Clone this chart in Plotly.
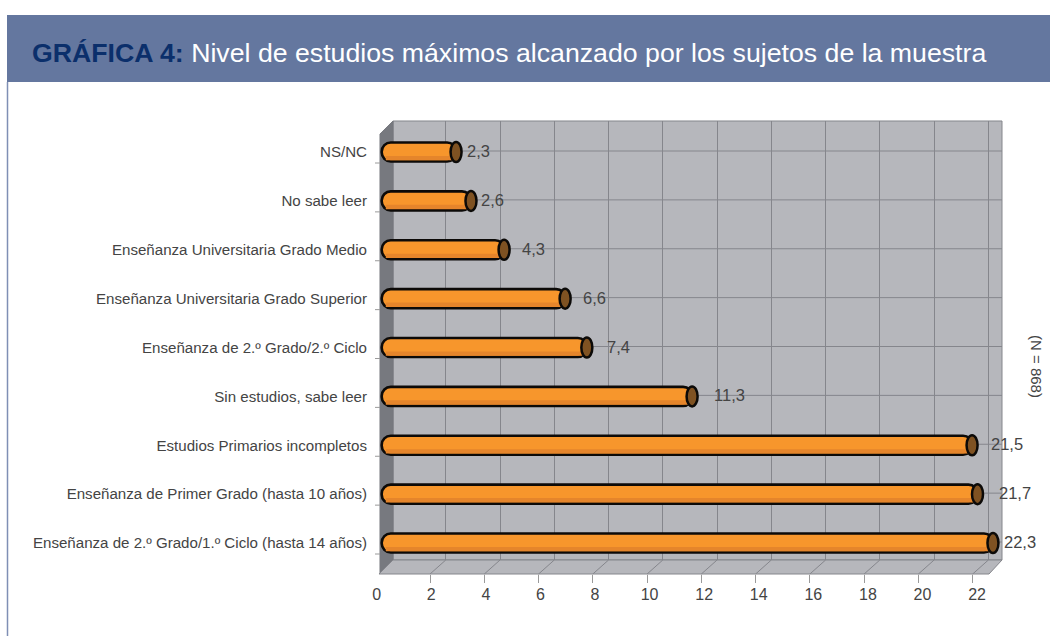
import plotly.graph_objects as go

# ---------- data ----------
categories = [
    "Enseñanza de 2.º Grado/1.º Ciclo (hasta 14 años)",
    "Enseñanza de Primer Grado (hasta 10 años)",
    "Estudios Primarios incompletos",
    "Sin estudios, sabe leer",
    "Enseñanza de 2.º Grado/2.º Ciclo",
    "Enseñanza Universitaria Grado Superior",
    "Enseñanza Universitaria Grado Medio",
    "No sabe leer",
    "NS/NC",
]
printed_values = ["22,3", "21,7", "21,5", "11,3", "7,4", "6,6", "4,3", "2,6", "2,3"]
# bar lengths (the printed labels differ slightly)
bar_values = [22.17, 21.6, 21.4, 11.08, 7.2, 6.4, 4.15, 2.93, 2.38]
x_ticks = [0, 2, 4, 6, 8, 10, 12, 14, 16, 18, 20, 22]
title_bold = "GRÁFICA 4:"
title_rest = " Nivel de estudios máximos alcanzado por los sujetos de la muestra"
note = "(N = 868)"

# ---------- geometry / style ----------
W, H = 1050, 636
PPU = 27.13           # pixels per x unit on the grid
LABEL_PPU = 27.29     # the printed tick labels run on a slightly wider scale
BACK_ORIGIN, FRONT_ORIGIN, LABEL_ORIGIN = 391.5, 375.8, 376.7
BACK_L, BACK_R, BACK_T, BACK_B = 393, 1002, 121, 560
FRONT_L, FRONT_R, FRONT_B = 379, 989, 574
ROW0_PX, ROW_STEP = 543.0, 48.875
BAR_START = -0.36     # bar starts on the front edge of the side wall
LABEL_GAP = [9, 19, 17, 20, 18, 16, 16, 8, 9]
GRID = "#85868c"
WALL = "#b6b7bc"
SIDE = "#77797f"
FONT = "Liberation Sans, Arial, sans-serif"
TXT = "#444444"

px = lambda v: v / W
py = lambda v: 1 - v / H
def poly(points, fill, line=None, width=1):
    path = "M " + " L ".join(f"{px(a):.5f} {py(b):.5f}" for a, b in points) + " Z"
    return dict(type="path", xref="paper", yref="paper", path=path, fillcolor=fill,
                line=dict(color=line or fill, width=width), layer="below")

rows = list(range(len(categories)))
shapes = [
    # header band and left rule
    dict(type="rect", xref="paper", yref="paper", x0=px(7), x1=1, y0=py(82), y1=py(15),
         fillcolor="#64779f", line=dict(width=0), layer="below"),
    dict(type="line", xref="paper", yref="paper", x0=px(7.5), x1=px(7.5), y0=py(82), y1=0,
         line=dict(color="#7f8fb5", width=1.5), layer="below"),
    # 3-D box
    poly([(BACK_L, BACK_T), (BACK_R, BACK_T), (BACK_R, BACK_B), (BACK_L, BACK_B)], WALL, GRID, 1),
    poly([(FRONT_L + 1, BACK_T + 13), (BACK_L, BACK_T), (BACK_L, BACK_B), (FRONT_L + 1, FRONT_B)], SIDE),
    poly([(FRONT_L, FRONT_B), (BACK_L, BACK_B), (BACK_R, BACK_B), (FRONT_R, FRONT_B)], WALL, GRID, 1),
]
# floor diagonals
for t in x_ticks[1:]:
    shapes.append(dict(type="line", xref="paper", yref="paper",
                       x0=px(FRONT_ORIGIN + t * PPU), y0=py(FRONT_B),
                       x1=px(BACK_ORIGIN + t * PPU), y1=py(BACK_B),
                       line=dict(color=GRID, width=1), layer="below"))
# horizontal grid on the back wall, tied to the rows
for r in rows:
    shapes.append(dict(type="line", xref="paper", yref="y", ysizemode="pixel", yanchor=r,
                       x0=px(BACK_L), x1=px(BACK_R), y0=1, y1=1,
                       line=dict(color=GRID, width=1), layer="below"))
# category tick marks on the front edge
for r in rows:
    yy = ROW0_PX + 11 - r * ROW_STEP
    shapes.append(dict(type="line", xref="paper", yref="paper",
                       x0=px(375), x1=px(FRONT_L + 1), y0=py(yy), y1=py(yy),
                       line=dict(color="#9a9a9a", width=1), layer="below"))
# cylinder end caps, anchored to the data
for v, r in zip(bar_values, rows):
    shapes.append(dict(type="circle", xref="x2", yref="y", xsizemode="pixel", ysizemode="pixel",
                       xanchor=v, yanchor=r, x0=-5.5, x1=5.5, y0=-10, y1=10,
                       fillcolor="#7f5222", line=dict(color="#0c0a08", width=2.5), layer="above"))

fig = go.Figure()
lengths = [v - BAR_START for v in bar_values]
fig.add_trace(go.Bar(x=lengths, y=rows, base=BAR_START, orientation="h", xaxis="x2", yaxis="y",
                     width=0.39, marker=dict(color="#f7962c", line=dict(color="#0c0a08", width=2.6),
                                             cornerradius=9),
                     hoverinfo="skip", showlegend=False))
fig.add_trace(go.Bar(x=[l - 0.2 for l in lengths], y=rows, base=BAR_START + 0.15, orientation="h",
                     xaxis="x2", yaxis="y", width=0.09, offset=-0.17,
                     marker=dict(color="#e5852b", line=dict(width=0)),
                     hoverinfo="skip", showlegend=False))
# invisible traces that keep the front axes alive
for ax in ("x", "x3"):
    fig.add_trace(go.Scatter(x=x_ticks, y=[0] * len(x_ticks), xaxis=ax, yaxis="y", mode="markers",
                             marker=dict(opacity=0), hoverinfo="skip", showlegend=False))

annotations = [
    dict(xref="x2", yref="y", x=v, y=r, text=t, showarrow=False, xanchor="left", yanchor="middle",
         xshift=g, yshift=1, font=dict(family=FONT, size=16.5, color=TXT))
    for v, r, t, g in zip(bar_values, rows, printed_values, LABEL_GAP)
]
annotations += [
    dict(xref="paper", yref="paper", x=px(30), y=py(53), xanchor="left", yanchor="middle", showarrow=False,
         text=f"<b><span style='color:#0b2f6b'>{title_bold}</span></b>{title_rest}",
         font=dict(family=FONT, size=26.7, color="#ffffff")),
    dict(xref="paper", yref="paper", x=px(1037), y=py(366), xanchor="center", yanchor="middle", showarrow=False,
         text=note, textangle=90, font=dict(family=FONT, size=15, color=TXT)),
]

fig.update_layout(
    width=W, height=H, autosize=False, margin=dict(l=0, r=0, t=0, b=0, autoexpand=False),
    paper_bgcolor="white", plot_bgcolor="rgba(0,0,0,0)",
    barmode="overlay", shapes=shapes, annotations=annotations,
    # back plane: bars and grid (axis reaches left to the start of the bars)
    xaxis2=dict(domain=[px(FRONT_L), px(BACK_R)],
                range=[(FRONT_L - BACK_ORIGIN) / PPU, (BACK_R - BACK_ORIGIN) / PPU],
                anchor="y", tickvals=x_ticks[1:], showticklabels=False, ticks="", showgrid=True,
                gridcolor=GRID, gridwidth=1, zeroline=False, showline=False, layer="below traces"),
    yaxis=dict(domain=[py(BACK_B), py(BACK_T)],
               range=[-(BACK_B - ROW0_PX) / ROW_STEP, (ROW0_PX - BACK_T) / ROW_STEP],
               anchor="x2", tickvals=rows, ticktext=categories, ticks="", ticklabelstandoff=11,
               tickfont=dict(family=FONT, size=15.1, color=TXT), showgrid=False,
               zeroline=False, showline=False, layer="below traces"),
    # front edge: tick marks
    xaxis=dict(domain=[px(FRONT_ORIGIN), px(FRONT_R)], range=[0, (FRONT_R - FRONT_ORIGIN) / PPU], anchor="free",
               position=py(FRONT_B), tickvals=x_ticks[1:], showticklabels=False,
               ticks="outside", ticklen=8, tickwidth=1, tickcolor="#9a9a9a", showgrid=False, zeroline=False,
               showline=False),
    # front edge: printed tick labels
    xaxis3=dict(domain=[px(LABEL_ORIGIN), px(FRONT_R)], range=[0, (FRONT_R - LABEL_ORIGIN) / LABEL_PPU], anchor="free",
                position=py(FRONT_B + 9), tickvals=x_ticks, ticktext=[str(t) for t in x_ticks],
                ticks="", showgrid=False, zeroline=False, showline=False,
                tickfont=dict(family=FONT, size=16, color=TXT)),
)

fig.write_html("out.html", config={"displayModeBar": False}, post_script="document.body.style.margin='0';")
